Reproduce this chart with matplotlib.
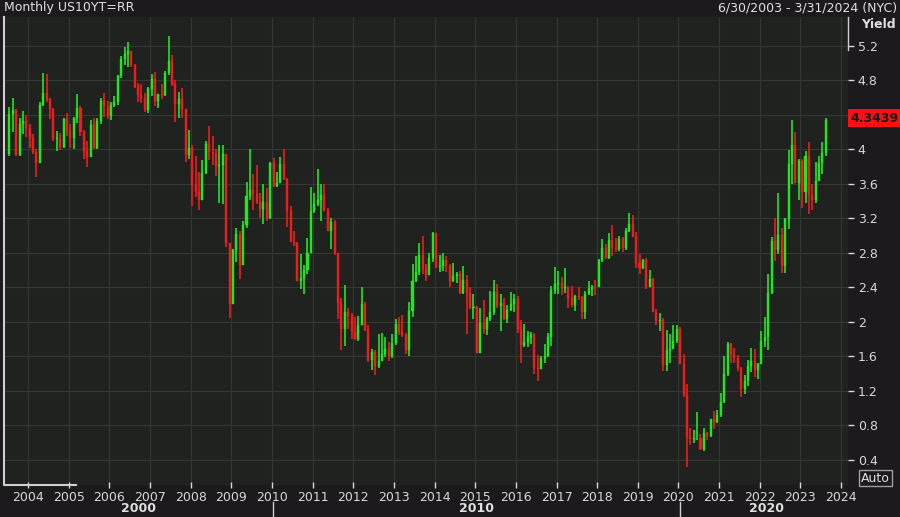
import matplotlib
matplotlib.use("Agg")
import matplotlib.pyplot as plt
from matplotlib.patches import Rectangle

start_year, start_month = 2003, 7
first_open = 3.95
closes = [4.41,4.46,3.94,4.29,4.33,4.25,
 4.13,3.97,3.84,4.51,4.65,4.58,4.47,4.12,4.12,4.03,4.35,4.22,
 4.13,4.36,4.48,4.20,3.98,3.91,4.28,4.02,4.33,4.56,4.49,4.39,
 4.52,4.55,4.85,5.05,5.11,5.14,4.98,4.73,4.63,4.60,4.46,4.70,
 4.82,4.56,4.64,4.63,4.89,5.03,4.76,4.53,4.58,4.47,3.94,4.02,
 3.59,3.51,3.41,3.73,4.06,3.97,3.95,3.81,3.82,3.95,2.92,2.21,
 2.84,3.02,2.66,3.12,3.46,3.53,3.48,3.39,3.31,3.39,3.20,3.84,
 3.58,3.61,3.83,3.66,3.29,2.93,2.91,2.47,2.51,2.60,2.80,3.29,
 3.37,3.42,3.47,3.29,3.05,3.16,2.80,2.22,1.92,2.11,2.07,1.88,
 1.80,1.97,2.21,1.91,1.56,1.65,1.49,1.55,1.63,1.69,1.61,1.76,
 1.98,1.88,1.85,1.67,2.13,2.48,2.58,2.78,2.61,2.55,2.74,3.03,
 2.64,2.65,2.72,2.65,2.47,2.53,2.56,2.34,2.49,2.34,2.16,2.17,
 1.64,1.99,1.92,2.03,2.12,2.35,2.18,2.22,2.04,2.14,2.21,2.27,
 1.92,1.73,1.77,1.83,1.85,1.47,1.45,1.58,1.60,1.83,2.37,2.44,
 2.45,2.39,2.39,2.28,2.20,2.30,2.29,2.12,2.33,2.38,2.41,2.40,
 2.72,2.86,2.74,2.95,2.86,2.85,2.96,2.86,3.06,3.14,2.99,2.68,
 2.63,2.72,2.41,2.50,2.12,2.01,2.02,1.50,1.67,1.69,1.78,1.92,
 1.51,1.15,0.67,0.64,0.65,0.66,0.53,0.71,0.68,0.87,0.84,0.92,
 1.07,1.40,1.74,1.63,1.58,1.47,1.22,1.31,1.49,1.55,1.44,1.51,
 1.78,1.83,2.34,2.94,2.84,3.01,2.65,3.19,3.83,4.05,3.61,3.87,
 3.51,3.92,3.47,3.42,3.64,3.84,3.96,4.3439]
highs = [4.49,4.60,4.47,4.37,4.45,4.40,
 4.29,4.18,4.00,4.55,4.89,4.87,4.60,4.48,4.22,4.19,4.37,4.42,
 4.30,4.38,4.64,4.50,4.23,4.10,4.34,4.36,4.37,4.60,4.66,4.56,
 4.55,4.62,4.86,5.08,5.19,5.25,5.14,4.99,4.77,4.76,4.65,4.72,
 4.88,4.90,4.64,4.76,4.91,5.32,5.09,4.80,4.67,4.71,4.46,4.23,
 4.05,3.92,3.74,3.88,4.10,4.27,4.16,4.01,4.05,4.05,3.95,2.92,
 2.85,3.09,3.06,3.17,3.62,4.00,3.72,3.82,3.49,3.60,3.55,3.86,
 3.90,3.74,3.91,4.01,3.67,3.35,3.06,2.93,2.79,2.66,2.97,3.56,
 3.49,3.77,3.60,3.60,3.32,3.21,3.18,2.80,2.28,2.43,2.16,2.10,
 2.06,2.07,2.40,2.23,1.96,1.69,1.67,1.86,1.87,1.83,1.77,1.86,
 2.04,2.06,2.08,1.87,2.23,2.67,2.76,2.92,3.00,2.67,2.80,3.04,
 3.02,2.78,2.80,2.76,2.67,2.68,2.58,2.59,2.65,2.54,2.41,2.33,
 2.18,2.16,2.25,2.06,2.36,2.49,2.44,2.33,2.28,2.20,2.35,2.33,
 2.30,2.02,1.98,1.90,1.88,1.87,1.62,1.61,1.74,1.87,2.42,2.64,
 2.59,2.52,2.63,2.42,2.42,2.31,2.40,2.30,2.36,2.47,2.43,2.49,
 2.73,2.96,2.90,3.03,3.13,2.97,3.00,2.99,3.09,3.26,3.24,3.04,
 2.79,2.73,2.74,2.60,2.51,2.15,2.10,2.05,1.91,1.86,1.97,1.96,
 1.94,1.63,1.28,0.77,0.75,0.96,0.70,0.77,0.72,0.88,0.97,0.98,
 1.18,1.61,1.77,1.76,1.70,1.62,1.48,1.38,1.56,1.70,1.69,1.52,
 1.90,2.06,2.56,2.99,3.20,3.50,3.09,3.20,3.99,4.34,4.20,3.89,
 3.89,3.98,4.09,3.60,3.85,3.93,4.09,4.36]
lows = [3.92,4.20,3.93,3.93,4.18,4.14,
 4.02,3.95,3.68,3.84,4.50,4.55,4.35,4.10,3.98,3.99,4.02,4.16,
 4.02,4.01,4.31,4.16,3.89,3.80,3.91,4.00,4.00,4.30,4.38,4.35,
 4.34,4.49,4.52,4.83,4.98,4.96,4.96,4.71,4.55,4.54,4.44,4.42,
 4.62,4.50,4.48,4.59,4.62,4.86,4.74,4.32,4.36,4.37,3.85,3.89,
 3.35,3.45,3.30,3.41,3.71,3.88,3.82,3.69,3.38,3.37,2.87,2.05,
 2.21,2.69,2.50,2.66,3.09,3.42,3.30,3.37,3.20,3.14,3.17,3.19,
 3.56,3.56,3.61,3.65,3.10,2.93,2.88,2.47,2.38,2.33,2.56,2.80,
 3.26,3.35,3.17,3.29,3.05,2.85,2.78,2.03,1.67,1.72,1.92,1.80,
 1.79,1.78,1.96,1.89,1.54,1.44,1.39,1.47,1.57,1.59,1.55,1.58,
 1.73,1.85,1.83,1.63,1.61,2.06,2.46,2.55,2.56,2.48,2.55,2.69,
 2.63,2.58,2.59,2.58,2.40,2.46,2.45,2.32,2.33,1.86,2.15,2.03,
 1.64,1.65,1.86,1.85,2.01,2.08,2.16,1.90,2.02,1.99,2.13,2.12,
 1.87,1.53,1.71,1.71,1.75,1.40,1.32,1.45,1.52,1.59,1.72,2.33,
 2.33,2.31,2.34,2.16,2.17,2.13,2.25,2.03,2.04,2.31,2.30,2.31,
 2.40,2.70,2.73,2.73,2.76,2.81,2.82,2.81,2.83,3.04,2.99,2.63,
 2.56,2.61,2.38,2.41,2.12,1.97,1.90,1.43,1.43,1.52,1.69,1.76,
 1.51,1.13,0.32,0.57,0.60,0.63,0.51,0.50,0.63,0.67,0.76,0.83,
 0.90,1.06,1.37,1.53,1.53,1.43,1.13,1.17,1.26,1.42,1.36,1.34,
 1.63,1.71,1.67,2.33,2.71,2.79,2.57,2.57,3.08,3.60,3.61,3.41,
 3.32,3.38,3.25,3.30,3.38,3.63,3.72,3.93]
opens = [first_open] + closes[:-1]
year_ticks = list(range(2004, 2025))
y_ticks = [0.4,0.8,1.2,1.6,2.0,2.4,2.8,3.2,3.6,4.0,4.4,4.8,5.2]
y_labels = ["0.4","0.8","1.2","1.6","2","2.4","2.8","3.2","3.6","4","","4.8","5.2"]
decades = [2000, 2010, 2020]

W, H = 900, 517
fig = plt.figure(figsize=(9, 5.17), dpi=100)
fig.patch.set_facecolor("#1c1a1c")
ax = fig.add_axes([4/W, 1-485/H, 844/W, 468/H])
ax.set_facecolor("#1f221e")
for s in ax.spines.values():
    s.set_visible(False)
ax.plot([0, 0, 0.085], [1, 0, 0], transform=ax.transAxes, color="#d0d0d0", lw=1.5, clip_on=False)
ax.plot([1, 1], [0.93, 1], transform=ax.transAxes, color="#d0d0d0", lw=1, clip_on=False)

w = 1/12 * 0.6
for i, (o, c, h, l) in enumerate(zip(opens, closes, highs, lows)):
    m = start_month - 1 + i
    x = start_year + m // 12 + ((m % 12) + 0.5) / 12
    col = "#1ee81e" if c >= o else "#ee1c1c"
    ax.vlines(x, l, h, color=col, lw=1.2, zorder=3)
    ax.add_patch(Rectangle((x - w/2, min(o, c)), w, max(abs(c - o), 0.01),
                           facecolor=col, edgecolor=col, lw=0.3, zorder=4))

ax.set_xlim(2003.41, 2024.17)
ax.set_ylim(0.11, 5.536)
ax.set_xticks(year_ticks)
ax.set_xticklabels([str(y) for y in year_ticks])
ax.set_yticks(y_ticks)
ax.set_yticklabels(y_labels)
ax.yaxis.tick_right()
ax.grid(True, color="#353832", lw=0.8)
ax.tick_params(colors="#d8d8d8", labelsize=9, length=4, width=1)
ax.tick_params(axis="x", direction="inout", pad=2)
ax.tick_params(axis="y", pad=3)

fig.text(4/W, 1-8/H, "Monthly US10YT=RR", color="#e0e0e0", fontsize=9, va="center", ha="left")
fig.text(897/W, 1-8/H, "6/30/2003 - 3/31/2024 (NYC)", color="#e0e0e0", fontsize=9, va="center", ha="right")
fig.text(861/W, 1-24/H, "Yield", color="#e0e0e0", fontsize=9, fontweight="bold", va="center", ha="left")
fig.text(850/W, 1-118/H, "4.3439", color="#1a1a1a", fontsize=9, fontweight="bold", va="center", ha="left",
         bbox=dict(facecolor="#ff1010", edgecolor="none", pad=1.5))
fig.text(861/W, 1-478/H, "Auto", color="#e0e0e0", fontsize=9, va="center", ha="left",
         bbox=dict(facecolor="#1c1a1c", edgecolor="#a0a0a0", pad=1.2))
decade_x = [138, 477, 767]
for d, xp in zip(decades, decade_x):
    fig.text(xp/W, 1-509/H, str(d), color="#e0e0e0", fontsize=9, fontweight="bold", va="center", ha="center")
for xp in [273, 680]:
    fig.add_artist(plt.Line2D([xp/W, xp/W], [0, 1-502/H], color="#d0d0d0", lw=1))

fig.savefig("out.png", dpi=100, facecolor=fig.get_facecolor())
